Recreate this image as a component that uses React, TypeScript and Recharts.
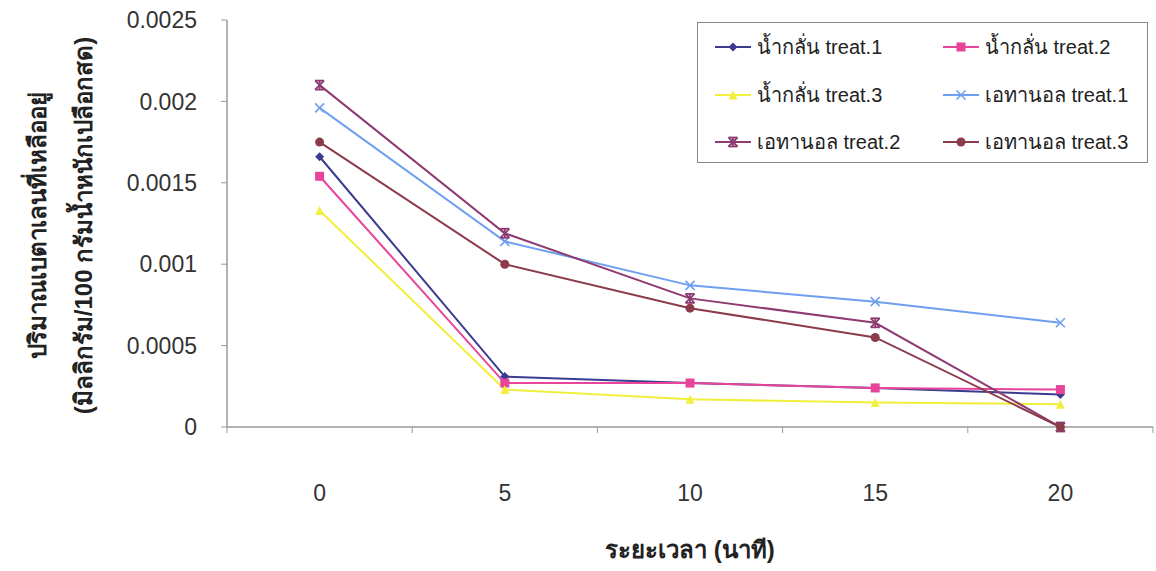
import React from "react";
import { LineChart, Line, XAxis, YAxis, Legend, Label } from "recharts";

// time (minutes)
const times = [0, 5, 10, 15, 20];
// betalain remaining (mg / 100 g fresh peel)
const waterT1 = [0.00166, 0.00031, 0.00027, 0.00024, 0.0002];
const waterT2 = [0.00154, 0.00027, 0.00027, 0.00024, 0.00023];
const waterT3 = [0.00133, 0.00023, 0.00017, 0.00015, 0.00014];
const ethT1 = [0.00196, 0.00114, 0.00087, 0.00077, 0.00064];
const ethT2 = [0.0021, 0.00119, 0.00079, 0.00064, 0];
const ethT3 = [0.00175, 0.001, 0.00073, 0.00055, 0];

const yTicks = [0, 0.0005, 0.001, 0.0015, 0.002, 0.0025];
const xBounds = [-2.5, 2.5, 7.5, 12.5, 17.5, 22.5];

const SERIES = [
  { key: "w1", name: "น้ำกลั่น treat.1", values: waterT1, color: "#3b3b8f", shape: "diamond" },
  { key: "w2", name: "น้ำกลั่น treat.2", values: waterT2, color: "#e8449a", shape: "square" },
  { key: "w3", name: "น้ำกลั่น treat.3", values: waterT3, color: "#f2ee3c", shape: "triangle" },
  { key: "e1", name: "เอทานอล treat.1", values: ethT1, color: "#6f9ff0", shape: "x" },
  { key: "e2", name: "เอทานอล treat.2", values: ethT2, color: "#8e3b72", shape: "star" },
  { key: "e3", name: "เอทานอล treat.3", values: ethT3, color: "#8c3b4b", shape: "circle" },
];

const data = times.map((t, i) => {
  const row: any = { t };
  SERIES.forEach((s) => (row[s.key] = s.values[i]));
  return row;
});

const FONT = "'Liberation Sans', Arial, 'Noto Sans', sans-serif";

function Marker({ shape, color, cx, cy }: any) {
  const r = 4.5;
  switch (shape) {
    case "diamond":
      return <polygon points={`${cx},${cy - r} ${cx + r},${cy} ${cx},${cy + r} ${cx - r},${cy}`} fill={color} />;
    case "square":
      return <rect x={cx - r} y={cy - r} width={r * 2} height={r * 2} fill={color} />;
    case "triangle":
      return <polygon points={`${cx},${cy - r} ${cx + r},${cy + r} ${cx - r},${cy + r}`} fill={color} />;
    case "x":
      return (
        <g stroke={color} strokeWidth={1.6}>
          <line x1={cx - r} y1={cy - r} x2={cx + r} y2={cy + r} />
          <line x1={cx - r} y1={cy + r} x2={cx + r} y2={cy - r} />
        </g>
      );
    case "star":
      return (
        <g stroke={color} strokeWidth={1.8}>
          <line x1={cx - r} y1={cy - r} x2={cx + r} y2={cy + r} />
          <line x1={cx - r} y1={cy + r} x2={cx + r} y2={cy - r} />
          <line x1={cx} y1={cy - r} x2={cx} y2={cy + r} />
          <line x1={cx - r} y1={cy - r} x2={cx + r} y2={cy - r} />
          <line x1={cx - r} y1={cy + r} x2={cx + r} y2={cy + r} />
        </g>
      );
    default:
      return <circle cx={cx} cy={cy} r={r} fill={color} />;
  }
}

function XTick({ x, y, payload }: any) {
  const axisY = y - 6;
  const v = payload.value;
  if (xBounds.includes(v)) {
    return <line x1={x} y1={axisY} x2={x} y2={axisY + 6} stroke="#999" />;
  }
  return (
    <text x={x} y={axisY + 68} textAnchor="middle" dominantBaseline="middle" fill="#333" fontSize={23} fontFamily={FONT}>
      {v}
    </text>
  );
}

function YTitle({ viewBox }: any) {
  const cy = viewBox.y + viewBox.height / 2 + 2;
  return (
    <g fill="#222" fontSize={24} fontWeight="bold" fontFamily={FONT} textAnchor="middle">
      <text transform={`translate(40, ${cy}) rotate(-90)`} dominantBaseline="middle">
        ปริมาณเบตาเลนที่เหลืออยู่
      </text>
      <text transform={`translate(86, ${cy}) rotate(-90)`} dominantBaseline="middle">
        (มิลลิกรัม/100 กรัมน้ำหนักเปลือกสด)
      </text>
    </g>
  );
}

function XTitle({ viewBox }: any) {
  return (
    <text x={viewBox.x + viewBox.width / 2} y={552} textAnchor="middle" dominantBaseline="middle" fill="#222" fontSize={24} fontWeight="bold" fontFamily={FONT}>
      ระยะเวลา (นาที)
    </text>
  );
}

function LegendBox() {
  return (
    <div
      style={{
        position: "relative",
        width: 451,
        height: 141,
        border: "1.5px solid #888",
        background: "#fff",
        boxSizing: "border-box",
        fontFamily: FONT,
      }}
    >
      {SERIES.map((s, i) => {
        const col = i % 2;
        const row = Math.floor(i / 2);
        return (
          <div
            key={s.key}
            style={{
              position: "absolute",
              left: col === 0 ? 17 : 245,
              top: 24 + row * 47.5 - 12,
              height: 24,
              display: "flex",
              alignItems: "center",
              fontSize: 20,
              color: "#222",
              whiteSpace: "nowrap",
            }}
          >
            <svg width={38} height={14} style={{ marginRight: 4 }}>
              <line x1={0} y1={7} x2={36} y2={7} stroke={s.color} strokeWidth={2} />
              <Marker shape={s.shape} color={s.color} cx={18} cy={7} />
            </svg>
            {s.name}
          </div>
        );
      })}
    </div>
  );
}

export default function App() {
  return (
    <div style={{ position: "absolute", left: 0, top: 0, background: "#fff" }}>
      <LineChart width={1156} height={571} data={data} margin={{ top: 20, right: 3, left: 0, bottom: 44 }}>
        <XAxis
          type="number"
          dataKey="t"
          domain={[-2.5, 22.5]}
          ticks={[...xBounds, ...times].sort((a, b) => a - b)}
          interval={0}
          height={100}
          tickSize={6}
          tickMargin={0}
          tickLine={false}
          tick={<XTick />}
          axisLine={{ stroke: "#999", strokeWidth: 1.5 }}
        >
          <Label content={<XTitle />} />
        </XAxis>
        <YAxis
          domain={[0, 0.0025]}
          ticks={yTicks}
          interval={0}
          width={227}
          tickSize={6}
          tickMargin={24}
          tick={{ fill: "#333", fontSize: 23, fontFamily: FONT }}
          tickLine={{ stroke: "#999" }}
          axisLine={{ stroke: "#999", strokeWidth: 1.5 }}
        >
          <Label content={<YTitle />} />
        </YAxis>
        <Legend
          layout="horizontal"
          verticalAlign="middle"
          align="center"
          content={() => <LegendBox />}
          wrapperStyle={{ left: 697, top: 22, width: 451, height: 141 }}
        />
        {SERIES.map((s) => (
          <Line
            key={s.key}
            dataKey={s.key}
            name={s.name}
            stroke={s.color}
            strokeWidth={2}
            isAnimationActive={false}
            dot={(p: any) => <Marker key={`${s.key}-${p.index}`} shape={s.shape} color={s.color} cx={p.cx} cy={p.cy} />}
            activeDot={false}
          />
        ))}
      </LineChart>
    </div>
  );
}
